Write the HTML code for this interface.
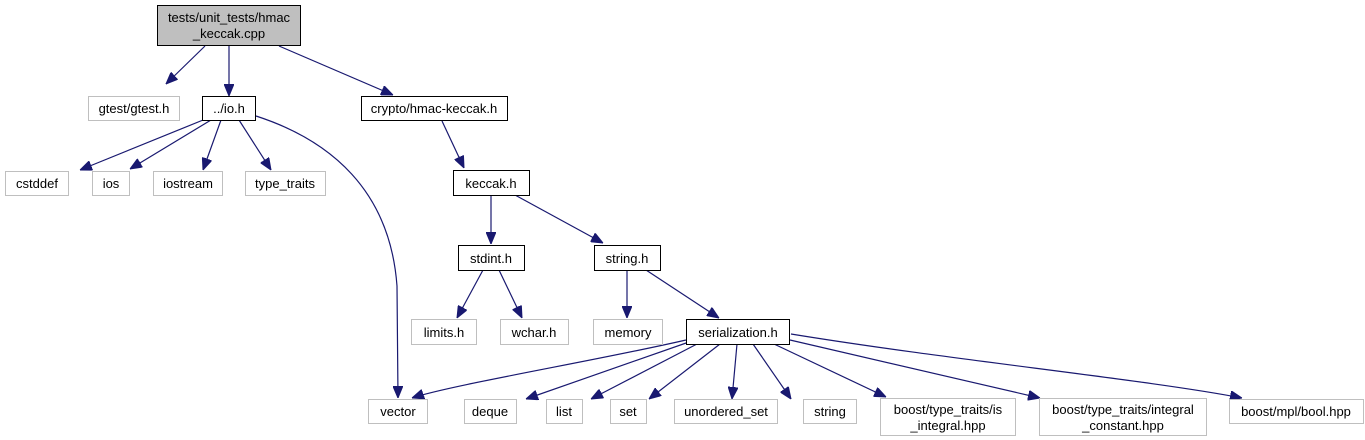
<!DOCTYPE html>
<html><head><meta charset="utf-8"><style>
html,body{margin:0;padding:0;background:#fff;}
svg{display:block;}
text{font-family:"Liberation Sans",sans-serif;font-size:13px;fill:#000;text-anchor:middle;}
.g{fill:#fff;stroke:#bfbfbf;stroke-width:1;}
.b{fill:#fff;stroke:#000;stroke-width:1;}
.e{fill:none;stroke:#191970;stroke-width:1.2;}
</style></head><body>
<svg width="1365" height="440" viewBox="0 0 1365 440" xmlns="http://www.w3.org/2000/svg">
<defs><marker id="a" markerWidth="12" markerHeight="10" refX="12" refY="5" orient="auto" markerUnits="userSpaceOnUse"><polygon points="0,0 12,5 0,10" fill="#191970" stroke="#191970"/></marker></defs>
<g class="e" marker-end="url(#a)">
<path d="M205,46 L166,84"/>
<path d="M229,46 L229,96"/>
<path d="M279,46 L393,95"/>
<path d="M208,118 L80,170"/>
<path d="M211,120 L130,169"/>
<path d="M221,120 L203,170"/>
<path d="M239,120 L271,170"/>
<path d="M256,116 C330,140 390,190 397,286 L398,398"/>
<path d="M442,121 L464,168"/>
<path d="M491,195 L491,244"/>
<path d="M515,195 L603,243"/>
<path d="M483,270 L457,318"/>
<path d="M499,270 L522,318"/>
<path d="M627,270 L627,318"/>
<path d="M646,270 L719,318"/>
<path d="M686,340 C600,360 450,385 412,398"/>
<path d="M689,342 L526,399"/>
<path d="M697,344 L591,399"/>
<path d="M720,344 L649,399"/>
<path d="M737,344 L732,399"/>
<path d="M753,344 L791,399"/>
<path d="M774,344 L886,397"/>
<path d="M790,340 L1040,398"/>
<path d="M791,334 C950,360 1150,380 1242,398"/>
</g>
<rect x="157.5" y="5.5" width="143" height="40" fill="#bfbfbf" stroke="#000"/>
<text x="229" y="22">tests/unit_tests/hmac</text><text x="229" y="38">_keccak.cpp</text>
<rect class="g" x="88.5" y="96.5" width="91" height="24"/><text x="134" y="113">gtest/gtest.h</text>
<rect class="b" x="202.5" y="96.5" width="53" height="24"/><text x="229" y="113">../io.h</text>
<rect class="b" x="361.5" y="96.5" width="146" height="24"/><text x="434" y="113">crypto/hmac-keccak.h</text>
<rect class="g" x="5.5" y="171.5" width="63" height="24"/><text x="37" y="188">cstddef</text>
<rect class="g" x="92.5" y="171.5" width="37" height="24"/><text x="111" y="188">ios</text>
<rect class="g" x="153.5" y="171.5" width="69" height="24"/><text x="188" y="188">iostream</text>
<rect class="g" x="245.5" y="171.5" width="80" height="24"/><text x="285" y="188">type_traits</text>
<rect class="b" x="453.5" y="170.5" width="76" height="25"/><text x="491" y="188">keccak.h</text>
<rect class="b" x="458.5" y="245.5" width="66" height="25"/><text x="491" y="263">stdint.h</text>
<rect class="b" x="594.5" y="245.5" width="66" height="25"/><text x="627" y="263">string.h</text>
<rect class="g" x="411.5" y="319.5" width="65" height="25"/><text x="444" y="337">limits.h</text>
<rect class="g" x="500.5" y="319.5" width="68" height="25"/><text x="534" y="337">wchar.h</text>
<rect class="g" x="593.5" y="319.5" width="69" height="25"/><text x="628" y="337">memory</text>
<rect class="b" x="686.5" y="319.5" width="103" height="25"/><text x="738" y="337">serialization.h</text>
<rect class="g" x="368.5" y="399.5" width="59" height="24"/><text x="398" y="416">vector</text>
<rect class="g" x="464.5" y="399.5" width="52" height="24"/><text x="490" y="416">deque</text>
<rect class="g" x="546.5" y="399.5" width="36" height="24"/><text x="564" y="416">list</text>
<rect class="g" x="610.5" y="399.5" width="36" height="24"/><text x="628" y="416">set</text>
<rect class="g" x="674.5" y="399.5" width="103" height="24"/><text x="726" y="416">unordered_set</text>
<rect class="g" x="803.5" y="399.5" width="53" height="24"/><text x="830" y="416">string</text>
<rect class="g" x="880.5" y="398.5" width="135" height="37"/><text x="948" y="414">boost/type_traits/is</text><text x="948" y="430">_integral.hpp</text>
<rect class="g" x="1039.5" y="398.5" width="167" height="37"/><text x="1123" y="414">boost/type_traits/integral</text><text x="1123" y="430">_constant.hpp</text>
<rect class="g" x="1229.5" y="399.5" width="134" height="24"/><text x="1296" y="416">boost/mpl/bool.hpp</text>
</svg>
</body></html>
